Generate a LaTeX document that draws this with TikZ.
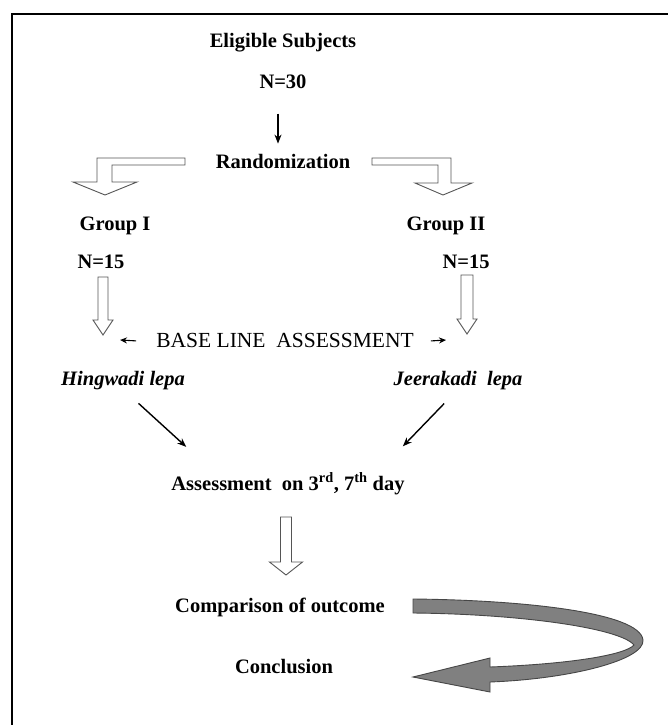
\documentclass[tikz,border=0pt]{standalone}
\usepackage{fontspec}
\setmainfont{Liberation Serif}
\usetikzlibrary{positioning, arrows.meta, calc}
\definecolor{ribbongray}{RGB}{128, 128, 128}
\definecolor{ribbonedge}{RGB}{70, 70, 70}
\definecolor{outlinegray}{RGB}{85, 85, 85}
% hollow block arrow pointing down: top, tip, half shaft, half head, head length
\newcommand{\blockarrow}[5]{%
    \draw[hollow] ($(#1)+(-#3,0)$) -- ($(#2)+(-#3,-#5)$) -- ($(#2)+(-#4,-#5)$) -- (#2)
        -- ($(#2)+(#4,-#5)$) -- ($(#2)+(#3,-#5)$) -- ($(#1)+(#3,0)$) -- cycle;}

\begin{document}
\begin{tikzpicture}[
    x=1pt, y=-1pt, % pixel-like units, y grows downwards
    >=Stealth, % Arrow tip style
    label_text/.style={ % Bold labels of the flow
        font=\fontsize{20.5}{24}\selectfont\bfseries,
        text height=14pt,
        text depth=4pt,
        inner sep=0pt
    },
    plain_text/.style={label_text, font=\fontsize{21.5}{25}\selectfont},
    lepa_text/.style={label_text, font=\fontsize{20.5}{24}\selectfont\bfseries\itshape},
    % Arrow styles
    arrow/.style={
        -{Stealth[length=9pt, width=7pt]},
        line width=1.4pt,
        draw=#1
    },
    arrow/.default=black,
    tiny_arrow/.style={-{Stealth[length=7pt, width=6pt]}, line width=1.1pt},
    hollow/.style={draw=outlinegray, fill=white, line width=0.9pt, line join=miter},
    ribbon/.style={fill=ribbongray, draw=ribbonedge, line width=0.9pt}
]
\useasboundingbox (0,0) rectangle (668,725);

% Frame (open to the right and bottom)
\draw[line width=2.6pt] (12,740) -- (12,14) -- (690,14);

% Central column
\node[label_text] (eligible) at (283,43) {Eligible Subjects};
\node[label_text] (n30) [below=22pt of eligible] {N=30};
\node[label_text] (rand) [below=62pt of n30] {Randomization};

% Groups
\node[label_text] (grp1) at (115,225) {Group I};
\node[label_text] (grp2) at (446,225) {Group II};
\node[label_text] (n15a) [below=20pt of grp1, xshift=-14pt] {N=15};
\node[label_text] (n15b) [below=20pt of grp2, xshift=20pt] {N=15};

\node[plain_text] (base) at (285,342) {BASE LINE~ ASSESSMENT};
\node[lepa_text] (hing) at (123,380) {Hingwadi lepa};
\node[lepa_text] (jeer) at (458,380) {Jeerakadi~ lepa};

\node[label_text] (assess) at (288,485) {Assessment~ on 3\textsuperscript{rd}, 7\textsuperscript{th} day};
\node[label_text] (comp) [below=104pt of assess, xshift=-8pt] {Comparison of outcome};
\node[label_text] (concl) [below=43pt of comp, xshift=4pt] {Conclusion};

% Arrows
\draw[arrow, shorten <=21pt, shorten >=11pt] ([xshift=-5pt]n30.south) -- ([xshift=-5pt]rand.north);

% Bent hollow arrows out of randomization
\draw[hollow] (185,158) -- (97,158) -- (97,182) -- (73,182) -- (105,195)
    -- (137,182) -- (112,182) -- (112,165) -- (185,165) -- cycle;
\draw[hollow] (372,158) -- (451,158) -- (451,183) -- (472,183) -- (443,195)
    -- (415,183) -- (438,183) -- (438,165) -- (372,165) -- cycle;

% Straight hollow arrows
\coordinate (ha1top) at (103,277);
\coordinate (ha1tip) at (103,335);
\coordinate (ha2top) at (467,275);
\coordinate (ha2tip) at (467,334);
\coordinate (ha3top) at (286,517);
\coordinate (ha3tip) at (286,575);
\blockarrow{ha1top}{ha1tip}{5}{10}{15}
\blockarrow{ha2top}{ha2tip}{6}{10}{15}
\blockarrow{ha3top}{ha3tip}{5.5}{16.5}{13}

% Small arrows beside the base line assessment
\coordinate (blleft) at (120,340);
\coordinate (blright) at (446,340);
\draw[tiny_arrow, shorten <=20pt] (base.west) -- (blleft);
\draw[tiny_arrow, shorten <=17pt] (base.east) -- (blright);

% Diagonal arrows into the assessment
\draw[arrow, shorten <=21pt, shorten >=43pt] (hing.south) -- ($(assess.north west)!0.2!(assess.north east)$);
\draw[arrow, shorten <=20pt, shorten >=41pt] (jeer.south) -- ($(assess.north west)!0.87!(assess.north east)$);

% Curved ribbon arrow from comparison to conclusion
\draw[ribbon] (413,599) .. controls (520,600) and (640,612) .. (643,640)
    .. controls (645,660) and (570,679) .. (490,682)
    -- (490,692) -- (413,677) -- (490,658) -- (490,667)
    .. controls (570,664) and (625,655) .. (634,645)
    .. controls (620,628) and (520,614) .. (413,613) -- cycle;

\end{tikzpicture}
\end{document}
